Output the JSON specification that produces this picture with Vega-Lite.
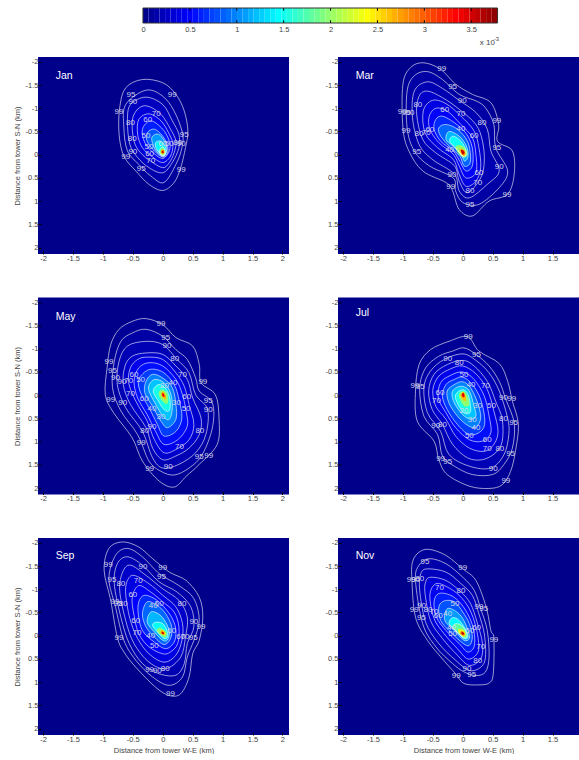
{"$schema":"https://vega.github.io/schema/vega-lite/v6.json","padding":{"left":13,"top":7,"right":0,"bottom":0},"background":"white","spacing":9,
"config":{"font":"Liberation Sans","view":{"stroke":null,"fill":"#00008b"},"axis":{"domain":false,"grid":false,"tickSize":-3,"tickColor":"#000000","labelFontSize":7.5,"labelColor":"#444444","labelPadding":3,"titleFontSize":7.5,"titleFontWeight":"normal","titleColor":"#444444"}},
"datasets":{
"cb":[{"a":0,"b":0.059},{"a":0.059,"b":0.118},{"a":0.118,"b":0.177},{"a":0.177,"b":0.236},{"a":0.236,"b":0.295},{"a":0.295,"b":0.354},{"a":0.354,"b":0.413},{"a":0.413,"b":0.472},{"a":0.472,"b":0.531},{"a":0.531,"b":0.59},{"a":0.59,"b":0.649},{"a":0.649,"b":0.708},{"a":0.708,"b":0.767},{"a":0.767,"b":0.826},{"a":0.826,"b":0.885},{"a":0.885,"b":0.944},{"a":0.944,"b":1.003},{"a":1.003,"b":1.062},{"a":1.062,"b":1.121},{"a":1.121,"b":1.18},{"a":1.18,"b":1.239},{"a":1.239,"b":1.298},{"a":1.298,"b":1.357},{"a":1.357,"b":1.416},{"a":1.416,"b":1.475},{"a":1.475,"b":1.534},{"a":1.534,"b":1.593},{"a":1.593,"b":1.652},{"a":1.652,"b":1.711},{"a":1.711,"b":1.77},{"a":1.77,"b":1.829},{"a":1.829,"b":1.888},{"a":1.888,"b":1.947},{"a":1.947,"b":2.006},{"a":2.006,"b":2.065},{"a":2.065,"b":2.124},{"a":2.124,"b":2.183},{"a":2.183,"b":2.242},{"a":2.242,"b":2.301},{"a":2.301,"b":2.36},{"a":2.36,"b":2.419},{"a":2.419,"b":2.478},{"a":2.478,"b":2.537},{"a":2.537,"b":2.596},{"a":2.596,"b":2.655},{"a":2.655,"b":2.714},{"a":2.714,"b":2.773},{"a":2.773,"b":2.832},{"a":2.832,"b":2.891},{"a":2.891,"b":2.95},{"a":2.95,"b":3.009},{"a":3.009,"b":3.068},{"a":3.068,"b":3.127},{"a":3.127,"b":3.186},{"a":3.186,"b":3.245},{"a":3.245,"b":3.304},{"a":3.304,"b":3.363},{"a":3.363,"b":3.422},{"a":3.422,"b":3.481},{"a":3.481,"b":3.54},{"a":3.54,"b":3.599},{"a":3.599,"b":3.658},{"a":3.658,"b":3.717},{"a":3.717,"b":3.78}],
"dJan":[{"l":99,"v":0.05},{"l":95,"v":0.12},{"l":90,"v":0.2},{"l":80,"v":0.3},{"l":70,"v":0.42},{"l":60,"v":0.58},{"l":50,"v":0.78},{"l":40,"v":1.05},{"l":30,"v":1.4},{"l":20,"v":1.75},{"l":10,"v":2.25},{"l":5,"v":2.9},{"l":2,"v":3.6}],
"dMar":[{"l":99,"v":0.03},{"l":95,"v":0.09},{"l":90,"v":0.15},{"l":80,"v":0.24},{"l":70,"v":0.34},{"l":60,"v":0.46},{"l":50,"v":0.62},{"l":40,"v":0.85},{"l":30,"v":1.15},{"l":20,"v":1.45},{"l":10,"v":1.95},{"l":5,"v":2.6},{"l":2,"v":3.5}],
"dMay":[{"l":99,"v":0.03},{"l":95,"v":0.09},{"l":90,"v":0.16},{"l":80,"v":0.26},{"l":70,"v":0.38},{"l":60,"v":0.52},{"l":50,"v":0.7},{"l":40,"v":0.95},{"l":30,"v":1.2},{"l":20,"v":1.5},{"l":10,"v":1.95},{"l":5,"v":2.6},{"l":2,"v":3.4}],
"Jan":[{"l":99,"x":-0.34,"y":-1.62},{"l":99,"x":0,"y":-1.55},{"l":99,"x":0.22,"y":-1.3},{"l":99,"x":0.36,"y":-0.94},{"l":99,"x":0.42,"y":-0.51},{"l":99,"x":0.38,"y":-0.15},{"l":99,"x":0.3,"y":0.28},{"l":99,"x":0.19,"y":0.6},{"l":99,"x":0,"y":0.77},{"l":99,"x":-0.23,"y":0.64},{"l":99,"x":-0.45,"y":0.35},{"l":99,"x":-0.65,"y":0.03},{"l":99,"x":-0.73,"y":-0.44},{"l":99,"x":-0.72,"y":-1.01},{"l":99,"x":-0.62,"y":-1.44},
{"l":95,"x":-0.28,"y":-1.39},{"l":95,"x":0,"y":-1.26},{"l":95,"x":0.19,"y":-0.94},{"l":95,"x":0.33,"y":-0.47},{"l":95,"x":0.32,"y":-0.15},{"l":95,"x":0.22,"y":0.21},{"l":95,"x":0.02,"y":0.6},{"l":95,"x":-0.2,"y":0.46},{"l":95,"x":-0.4,"y":0.21},{"l":95,"x":-0.59,"y":-0.08},{"l":95,"x":-0.65,"y":-0.58},{"l":95,"x":-0.62,"y":-1.08},
{"l":90,"x":-0.28,"y":-1.24},{"l":90,"x":0,"y":-1.08},{"l":90,"x":0.16,"y":-0.73},{"l":90,"x":0.27,"y":-0.44},{"l":90,"x":0.27,"y":-0.15},{"l":90,"x":0.16,"y":0.17},{"l":90,"x":0,"y":0.39},{"l":90,"x":-0.23,"y":0.28},{"l":90,"x":-0.42,"y":0.06},{"l":90,"x":-0.55,"y":-0.22},{"l":90,"x":-0.59,"y":-0.73},{"l":90,"x":-0.54,"y":-1.08},
{"l":80,"x":-0.26,"y":-1.05},{"l":80,"x":-0.03,"y":-0.87},{"l":80,"x":0.13,"y":-0.55},{"l":80,"x":0.22,"y":-0.29},{"l":80,"x":0.19,"y":-0.04},{"l":80,"x":0.11,"y":0.17},{"l":80,"x":0,"y":0.28},{"l":80,"x":-0.2,"y":0.14},{"l":80,"x":-0.37,"y":-0.04},{"l":80,"x":-0.48,"y":-0.29},{"l":80,"x":-0.51,"y":-0.73},{"l":80,"x":-0.42,"y":-0.98},
{"l":70,"x":-0.23,"y":-0.88},{"l":70,"x":-0.03,"y":-0.73},{"l":70,"x":0.11,"y":-0.44},{"l":70,"x":0.17,"y":-0.22},{"l":70,"x":0.13,"y":0.03},{"l":70,"x":0,"y":0.17},{"l":70,"x":-0.17,"y":0.05},{"l":70,"x":-0.34,"y":-0.15},{"l":70,"x":-0.42,"y":-0.44},{"l":70,"x":-0.4,"y":-0.76},
{"l":60,"x":-0.2,"y":-0.73},{"l":60,"x":0,"y":-0.55},{"l":60,"x":0.11,"y":-0.29},{"l":60,"x":0.11,"y":-0.08},{"l":60,"x":0,"y":0.08},{"l":60,"x":-0.16,"y":-0.04},{"l":60,"x":-0.3,"y":-0.26},{"l":60,"x":-0.34,"y":-0.55},
{"l":50,"x":-0.14,"y":-0.55},{"l":50,"x":0,"y":-0.4},{"l":50,"x":0.08,"y":-0.19},{"l":50,"x":0.08,"y":-0.04},{"l":50,"x":0,"y":0.05},{"l":50,"x":-0.14,"y":-0.08},{"l":50,"x":-0.26,"y":-0.29},{"l":50,"x":-0.26,"y":-0.47},
{"l":40,"x":-0.07,"y":-0.44},{"l":40,"x":0.03,"y":-0.29},{"l":40,"x":0.07,"y":-0.11},{"l":40,"x":0,"y":0.03},{"l":40,"x":-0.12,"y":-0.1},{"l":40,"x":-0.18,"y":-0.29},{"l":40,"x":-0.17,"y":-0.4},
{"l":30,"x":-0.03,"y":-0.29},{"l":30,"x":0.05,"y":-0.15},{"l":30,"x":0.05,"y":-0.02},{"l":30,"x":0,"y":0.02},{"l":30,"x":-0.1,"y":-0.11},{"l":30,"x":-0.12,"y":-0.26},
{"l":20,"x":0,"y":-0.17},{"l":20,"x":0.04,"y":-0.08},{"l":20,"x":0.03,"y":0.01},{"l":20,"x":-0.02,"y":0.02},{"l":20,"x":-0.06,"y":-0.08},
{"l":10,"x":0,"y":-0.13},{"l":10,"x":0.04,"y":-0.06},{"l":10,"x":0,"y":0},{"l":10,"x":-0.04,"y":-0.06},
{"l":5,"x":0,"y":-0.11},{"l":5,"x":0.03,"y":-0.06},{"l":5,"x":0,"y":-0.02},{"l":5,"x":-0.03,"y":-0.06},
{"l":2,"x":0,"y":-0.08},{"l":2,"x":0.015,"y":-0.055},{"l":2,"x":0,"y":-0.035},{"l":2,"x":-0.015,"y":-0.055}],
"Mar":[{"l":99,"x":-0.65,"y":-1.98},{"l":99,"x":-0.37,"y":-1.84},{"l":99,"x":-0.12,"y":-1.52},{"l":99,"x":0.16,"y":-1.3},{"l":99,"x":0.47,"y":-1.12},{"l":99,"x":0.6,"y":-0.65},{"l":99,"x":0.58,"y":-0.29},{"l":99,"x":0.83,"y":-0.08},{"l":99,"x":0.86,"y":0.42},{"l":99,"x":0.75,"y":0.85},{"l":99,"x":0.44,"y":1},{"l":99,"x":0.16,"y":1.32},{"l":99,"x":-0.06,"y":1.18},{"l":99,"x":-0.17,"y":0.78},{"l":99,"x":-0.28,"y":0.6},{"l":99,"x":-0.67,"y":0.35},{"l":99,"x":-0.9,"y":-0.08},{"l":99,"x":-1,"y":-0.58},{"l":99,"x":-1,"y":-1.52},{"l":99,"x":-0.87,"y":-1.88},
{"l":95,"x":-0.59,"y":-1.79},{"l":95,"x":-0.34,"y":-1.62},{"l":95,"x":-0.06,"y":-1.3},{"l":95,"x":0.22,"y":-1.16},{"l":95,"x":0.38,"y":-1.01},{"l":95,"x":0.52,"y":-0.65},{"l":95,"x":0.55,"y":-0.15},{"l":95,"x":0.75,"y":0.35},{"l":95,"x":0.61,"y":0.71},{"l":95,"x":0.27,"y":1.07},{"l":95,"x":0,"y":1.03},{"l":95,"x":-0.12,"y":0.78},{"l":95,"x":-0.16,"y":0.5},{"l":95,"x":-0.56,"y":0.24},{"l":95,"x":-0.81,"y":-0.08},{"l":95,"x":-0.93,"y":-0.58},{"l":95,"x":-0.93,"y":-1.37},{"l":95,"x":-0.81,"y":-1.7},
{"l":90,"x":-0.59,"y":-1.57},{"l":90,"x":-0.34,"y":-1.43},{"l":90,"x":-0.06,"y":-1.17},{"l":90,"x":0.22,"y":-0.91},{"l":90,"x":0.41,"y":-0.55},{"l":90,"x":0.47,"y":-0.08},{"l":90,"x":0.61,"y":0.35},{"l":90,"x":0.41,"y":0.64},{"l":90,"x":0.11,"y":0.93},{"l":90,"x":-0.06,"y":0.78},{"l":90,"x":-0.14,"y":0.42},{"l":90,"x":-0.51,"y":0.1},{"l":90,"x":-0.73,"y":-0.22},{"l":90,"x":-0.84,"y":-0.8},{"l":90,"x":-0.81,"y":-1.37},
{"l":80,"x":-0.59,"y":-1.37},{"l":80,"x":-0.34,"y":-1.23},{"l":80,"x":-0.06,"y":-0.98},{"l":80,"x":0.22,"y":-0.65},{"l":80,"x":0.33,"y":-0.29},{"l":80,"x":0.36,"y":0.14},{"l":80,"x":0.3,"y":0.5},{"l":80,"x":0.08,"y":0.82},{"l":80,"x":-0.06,"y":0.57},{"l":80,"x":-0.14,"y":0.24},{"l":80,"x":-0.45,"y":-0.04},{"l":80,"x":-0.67,"y":-0.33},{"l":80,"x":-0.77,"y":-0.87},{"l":80,"x":-0.73,"y":-1.26},
{"l":70,"x":-0.51,"y":-1.17},{"l":70,"x":-0.28,"y":-1.1},{"l":70,"x":-0.03,"y":-0.83},{"l":70,"x":0.19,"y":-0.51},{"l":70,"x":0.27,"y":-0.15},{"l":70,"x":0.3,"y":0.28},{"l":70,"x":0.22,"y":0.57},{"l":70,"x":0.05,"y":0.68},{"l":70,"x":-0.07,"y":0.39},{"l":70,"x":-0.16,"y":0.1},{"l":70,"x":-0.42,"y":-0.15},{"l":70,"x":-0.63,"y":-0.47},{"l":70,"x":-0.66,"y":-0.94},
{"l":60,"x":-0.45,"y":-1},{"l":60,"x":-0.26,"y":-0.94},{"l":60,"x":-0.03,"y":-0.65},{"l":60,"x":0.16,"y":-0.37},{"l":60,"x":0.22,"y":-0.01},{"l":60,"x":0.22,"y":0.39},{"l":60,"x":0.05,"y":0.5},{"l":60,"x":-0.06,"y":0.24},{"l":60,"x":-0.16,"y":-0.01},{"l":60,"x":-0.4,"y":-0.26},{"l":60,"x":-0.55,"y":-0.55},{"l":60,"x":-0.56,"y":-0.83},
{"l":50,"x":-0.34,"y":-0.83},{"l":50,"x":-0.14,"y":-0.69},{"l":50,"x":0.05,"y":-0.47},{"l":50,"x":0.16,"y":-0.15},{"l":50,"x":0.16,"y":0.24},{"l":50,"x":0.05,"y":0.35},{"l":50,"x":-0.05,"y":0.14},{"l":50,"x":-0.16,"y":-0.08},{"l":50,"x":-0.37,"y":-0.29},{"l":50,"x":-0.48,"y":-0.55},{"l":50,"x":-0.45,"y":-0.76},
{"l":40,"x":-0.28,"y":-0.65},{"l":40,"x":-0.09,"y":-0.55},{"l":40,"x":0.08,"y":-0.29},{"l":40,"x":0.13,"y":0.03},{"l":40,"x":0.11,"y":0.21},{"l":40,"x":0.02,"y":0.24},{"l":40,"x":-0.05,"y":0.03},{"l":40,"x":-0.2,"y":-0.15},{"l":40,"x":-0.37,"y":-0.4},{"l":40,"x":-0.4,"y":-0.58},
{"l":30,"x":-0.23,"y":-0.5},{"l":30,"x":-0.06,"y":-0.4},{"l":30,"x":0.06,"y":-0.19},{"l":30,"x":0.09,"y":0.03},{"l":30,"x":0.03,"y":0.14},{"l":30,"x":-0.03,"y":-0.01},{"l":30,"x":-0.17,"y":-0.19},{"l":30,"x":-0.28,"y":-0.33},
{"l":20,"x":-0.16,"y":-0.4},{"l":20,"x":-0.03,"y":-0.29},{"l":20,"x":0.05,"y":-0.11},{"l":20,"x":0.05,"y":0.03},{"l":20,"x":0,"y":0.03},{"l":20,"x":-0.12,"y":-0.15},{"l":20,"x":-0.22,"y":-0.29},
{"l":10,"x":-0.07,"y":-0.21},{"l":10,"x":0.04,"y":-0.15},{"l":10,"x":0.08,"y":-0.01},{"l":10,"x":0.02,"y":0.06},{"l":10,"x":-0.06,"y":-0.01},{"l":10,"x":-0.12,"y":-0.15},
{"l":5,"x":-0.05,"y":-0.13},{"l":5,"x":0.03,"y":-0.09},{"l":5,"x":0.05,"y":0},{"l":5,"x":0.01,"y":0.03},{"l":5,"x":-0.04,"y":-0.03},
{"l":2,"x":-0.03,"y":-0.1},{"l":2,"x":0.02,"y":-0.08},{"l":2,"x":0.03,"y":-0.02},{"l":2,"x":-0.01,"y":-0.01}],
"May":[{"l":99,"x":-0.28,"y":-1.65},{"l":99,"x":0,"y":-1.52},{"l":99,"x":0.22,"y":-1.24},{"l":99,"x":0.5,"y":-1.06},{"l":99,"x":0.61,"y":-0.66},{"l":99,"x":0.64,"y":-0.27},{"l":99,"x":0.88,"y":-0.01},{"l":99,"x":0.94,"y":0.49},{"l":99,"x":0.91,"y":1.06},{"l":99,"x":0.61,"y":1.49},{"l":99,"x":0.39,"y":1.75},{"l":99,"x":0.19,"y":1.98},{"l":99,"x":-0.06,"y":1.85},{"l":99,"x":-0.34,"y":1.42},{"l":99,"x":-0.51,"y":0.92},{"l":99,"x":-0.82,"y":0.38},{"l":99,"x":-0.96,"y":-0.01},{"l":99,"x":-0.93,"y":-0.59},{"l":99,"x":-0.87,"y":-1.09},{"l":99,"x":-0.73,"y":-1.42},{"l":99,"x":-0.51,"y":-1.59},
{"l":95,"x":-0.28,"y":-1.42},{"l":95,"x":0,"y":-1.27},{"l":95,"x":0.22,"y":-0.98},{"l":95,"x":0.41,"y":-0.77},{"l":95,"x":0.55,"y":-0.37},{"l":95,"x":0.61,"y":-0.09},{"l":95,"x":0.83,"y":0.17},{"l":95,"x":0.83,"y":0.7},{"l":95,"x":0.66,"y":1.28},{"l":95,"x":0.44,"y":1.57},{"l":95,"x":0.19,"y":1.72},{"l":95,"x":-0.03,"y":1.64},{"l":95,"x":-0.23,"y":1.42},{"l":95,"x":-0.42,"y":0.85},{"l":95,"x":-0.7,"y":0.34},{"l":95,"x":-0.84,"y":-0.16},{"l":95,"x":-0.81,"y":-0.73},{"l":95,"x":-0.7,"y":-1.16},{"l":95,"x":-0.51,"y":-1.34},
{"l":90,"x":-0.28,"y":-1.16},{"l":90,"x":0,"y":-1.09},{"l":90,"x":0.24,"y":-0.77},{"l":90,"x":0.44,"y":-0.48},{"l":90,"x":0.55,"y":-0.01},{"l":90,"x":0.75,"y":0.31},{"l":90,"x":0.72,"y":0.85},{"l":90,"x":0.55,"y":1.24},{"l":90,"x":0.27,"y":1.49},{"l":90,"x":0,"y":1.57},{"l":90,"x":-0.17,"y":1.35},{"l":90,"x":-0.34,"y":0.78},{"l":90,"x":-0.62,"y":0.27},{"l":90,"x":-0.76,"y":-0.23},{"l":90,"x":-0.73,"y":-0.73},{"l":90,"x":-0.59,"y":-1.06},
{"l":80,"x":-0.28,"y":-0.91},{"l":80,"x":0,"y":-0.88},{"l":80,"x":0.22,"y":-0.63},{"l":80,"x":0.41,"y":-0.34},{"l":80,"x":0.5,"y":0.06},{"l":80,"x":0.64,"y":0.49},{"l":80,"x":0.61,"y":0.85},{"l":80,"x":0.44,"y":1.14},{"l":80,"x":0.22,"y":1.31},{"l":80,"x":0,"y":1.39},{"l":80,"x":-0.17,"y":1.14},{"l":80,"x":-0.28,"y":0.7},{"l":80,"x":-0.54,"y":0.2},{"l":80,"x":-0.66,"y":-0.23},{"l":80,"x":-0.63,"y":-0.63},{"l":80,"x":-0.51,"y":-0.84},
{"l":70,"x":-0.26,"y":-0.82},{"l":70,"x":0,"y":-0.77},{"l":70,"x":0.22,"y":-0.48},{"l":70,"x":0.36,"y":-0.19},{"l":70,"x":0.44,"y":0.2},{"l":70,"x":0.52,"y":0.63},{"l":70,"x":0.44,"y":0.96},{"l":70,"x":0.22,"y":1.17},{"l":70,"x":0.02,"y":1.24},{"l":70,"x":-0.14,"y":0.96},{"l":70,"x":-0.26,"y":0.56},{"l":70,"x":-0.45,"y":0.13},{"l":70,"x":-0.57,"y":-0.27},{"l":70,"x":-0.54,"y":-0.59},{"l":70,"x":-0.42,"y":-0.77},
{"l":60,"x":-0.23,"y":-0.7},{"l":60,"x":0,"y":-0.63},{"l":60,"x":0.22,"y":-0.34},{"l":60,"x":0.33,"y":-0.01},{"l":60,"x":0.39,"y":0.34},{"l":60,"x":0.41,"y":0.67},{"l":60,"x":0.25,"y":0.96},{"l":60,"x":0.02,"y":1.06},{"l":60,"x":-0.12,"y":0.78},{"l":60,"x":-0.26,"y":0.42},{"l":60,"x":-0.42,"y":0.06},{"l":60,"x":-0.48,"y":-0.3},{"l":60,"x":-0.4,"y":-0.59},
{"l":50,"x":-0.23,"y":-0.55},{"l":50,"x":0,"y":-0.5},{"l":50,"x":0.19,"y":-0.23},{"l":50,"x":0.27,"y":0.09},{"l":50,"x":0.32,"y":0.49},{"l":50,"x":0.22,"y":0.78},{"l":50,"x":0.02,"y":0.88},{"l":50,"x":-0.09,"y":0.63},{"l":50,"x":-0.23,"y":0.27},{"l":50,"x":-0.37,"y":-0.05},{"l":50,"x":-0.4,"y":-0.34},
{"l":40,"x":-0.17,"y":-0.45},{"l":40,"x":0,"y":-0.37},{"l":40,"x":0.16,"y":-0.16},{"l":40,"x":0.22,"y":0.2},{"l":40,"x":0.22,"y":0.52},{"l":40,"x":0.08,"y":0.7},{"l":40,"x":-0.03,"y":0.56},{"l":40,"x":-0.17,"y":0.24},{"l":40,"x":-0.3,"y":-0.05},{"l":40,"x":-0.28,"y":-0.3},
{"l":30,"x":-0.13,"y":-0.34},{"l":30,"x":0.02,"y":-0.27},{"l":30,"x":0.13,"y":-0.05},{"l":30,"x":0.16,"y":0.27},{"l":30,"x":0.11,"y":0.52},{"l":30,"x":0,"y":0.45},{"l":30,"x":-0.13,"y":0.17},{"l":30,"x":-0.23,"y":-0.09},{"l":30,"x":-0.22,"y":-0.24},
{"l":20,"x":-0.07,"y":-0.23},{"l":20,"x":0.05,"y":-0.14},{"l":20,"x":0.12,"y":0.09},{"l":20,"x":0.11,"y":0.33},{"l":20,"x":0.02,"y":0.31},{"l":20,"x":-0.09,"y":0.09},{"l":20,"x":-0.16,"y":-0.09},
{"l":10,"x":-0.02,"y":-0.12},{"l":10,"x":0.07,"y":-0.05},{"l":10,"x":0.09,"y":0.13},{"l":10,"x":0.05,"y":0.19},{"l":10,"x":-0.03,"y":0.09},{"l":10,"x":-0.07,"y":-0.03},
{"l":5,"x":0,"y":-0.08},{"l":5,"x":0.05,"y":0},{"l":5,"x":0.05,"y":0.1},{"l":5,"x":0,"y":0.05},{"l":5,"x":-0.03,"y":-0.01},
{"l":2,"x":0,"y":-0.05},{"l":2,"x":0.03,"y":0},{"l":2,"x":0.02,"y":0.04},{"l":2,"x":-0.01,"y":0}],
"Jul":[{"l":99,"x":0.08,"y":-1.26},{"l":99,"x":0.27,"y":-0.95},{"l":99,"x":0.61,"y":-0.68},{"l":99,"x":0.75,"y":-0.3},{"l":99,"x":0.83,"y":0.13},{"l":99,"x":0.93,"y":0.63},{"l":99,"x":0.88,"y":1.21},{"l":99,"x":0.8,"y":1.64},{"l":99,"x":0.66,"y":1.93},{"l":99,"x":0.44,"y":2.01},{"l":99,"x":0.11,"y":1.96},{"l":99,"x":-0.26,"y":1.71},{"l":99,"x":-0.4,"y":1.39},{"l":99,"x":-0.48,"y":0.99},{"l":99,"x":-0.76,"y":0.56},{"l":99,"x":-0.79,"y":-0.09},{"l":99,"x":-0.73,"y":-0.66},{"l":99,"x":-0.54,"y":-0.98},{"l":99,"x":-0.23,"y":-1.16},
{"l":95,"x":0.02,"y":-1.02},{"l":95,"x":0.22,"y":-0.88},{"l":95,"x":0.44,"y":-0.63},{"l":95,"x":0.61,"y":-0.3},{"l":95,"x":0.72,"y":0.09},{"l":95,"x":0.86,"y":0.6},{"l":95,"x":0.83,"y":1.14},{"l":95,"x":0.69,"y":1.49},{"l":95,"x":0.5,"y":1.71},{"l":95,"x":0.16,"y":1.71},{"l":95,"x":-0.14,"y":1.53},{"l":95,"x":-0.34,"y":1.31},{"l":95,"x":-0.42,"y":0.85},{"l":95,"x":-0.65,"y":0.45},{"l":95,"x":-0.72,"y":-0.16},{"l":95,"x":-0.62,"y":-0.59},{"l":95,"x":-0.4,"y":-0.84},{"l":95,"x":-0.17,"y":-0.95},
{"l":90,"x":0,"y":-0.89},{"l":90,"x":0.22,"y":-0.75},{"l":90,"x":0.44,"y":-0.48},{"l":90,"x":0.61,"y":-0.09},{"l":90,"x":0.75,"y":0.49},{"l":90,"x":0.77,"y":0.85},{"l":90,"x":0.69,"y":1.28},{"l":90,"x":0.47,"y":1.57},{"l":90,"x":0.11,"y":1.53},{"l":90,"x":-0.23,"y":1.28},{"l":90,"x":-0.37,"y":0.78},{"l":90,"x":-0.59,"y":0.38},{"l":90,"x":-0.65,"y":-0.16},{"l":90,"x":-0.54,"y":-0.52},{"l":90,"x":-0.31,"y":-0.77},
{"l":80,"x":0,"y":-0.75},{"l":80,"x":0.19,"y":-0.63},{"l":80,"x":0.41,"y":-0.3},{"l":80,"x":0.55,"y":0.13},{"l":80,"x":0.66,"y":0.52},{"l":80,"x":0.66,"y":0.99},{"l":80,"x":0.55,"y":1.24},{"l":80,"x":0.33,"y":1.39},{"l":80,"x":0.08,"y":1.35},{"l":80,"x":-0.17,"y":1.06},{"l":80,"x":-0.34,"y":0.63},{"l":80,"x":-0.51,"y":0.31},{"l":80,"x":-0.57,"y":-0.09},{"l":80,"x":-0.48,"y":-0.45},{"l":80,"x":-0.26,"y":-0.66},
{"l":70,"x":0,"y":-0.63},{"l":70,"x":0.22,"y":-0.46},{"l":70,"x":0.41,"y":-0.12},{"l":70,"x":0.52,"y":0.34},{"l":70,"x":0.59,"y":0.78},{"l":70,"x":0.52,"y":1.06},{"l":70,"x":0.36,"y":1.21},{"l":70,"x":0.11,"y":1.14},{"l":70,"x":-0.12,"y":0.88},{"l":70,"x":-0.28,"y":0.52},{"l":70,"x":-0.45,"y":0.24},{"l":70,"x":-0.5,"y":-0.12},{"l":70,"x":-0.4,"y":-0.41},{"l":70,"x":-0.2,"y":-0.57},
{"l":60,"x":0,"y":-0.5},{"l":60,"x":0.19,"y":-0.34},{"l":60,"x":0.36,"y":0.02},{"l":60,"x":0.44,"y":0.45},{"l":60,"x":0.47,"y":0.81},{"l":60,"x":0.33,"y":0.99},{"l":60,"x":0.11,"y":0.96},{"l":60,"x":-0.12,"y":0.7},{"l":60,"x":-0.28,"y":0.38},{"l":60,"x":-0.41,"y":0.06},{"l":60,"x":-0.37,"y":-0.27},{"l":60,"x":-0.2,"y":-0.43},
{"l":50,"x":0,"y":-0.39},{"l":50,"x":0.16,"y":-0.23},{"l":50,"x":0.3,"y":0.09},{"l":50,"x":0.37,"y":0.56},{"l":50,"x":0.3,"y":0.78},{"l":50,"x":0.11,"y":0.85},{"l":50,"x":-0.09,"y":0.63},{"l":50,"x":-0.26,"y":0.31},{"l":50,"x":-0.34,"y":0.02},{"l":50,"x":-0.28,"y":-0.23},{"l":50,"x":-0.14,"y":-0.34},
{"l":40,"x":0,"y":-0.29},{"l":40,"x":0.13,"y":-0.16},{"l":40,"x":0.25,"y":0.17},{"l":40,"x":0.3,"y":0.49},{"l":40,"x":0.22,"y":0.69},{"l":40,"x":0.08,"y":0.65},{"l":40,"x":-0.09,"y":0.45},{"l":40,"x":-0.23,"y":0.17},{"l":40,"x":-0.26,"y":-0.09},{"l":40,"x":-0.14,"y":-0.23},
{"l":30,"x":0,"y":-0.19},{"l":30,"x":0.11,"y":-0.09},{"l":30,"x":0.19,"y":0.24},{"l":30,"x":0.22,"y":0.45},{"l":30,"x":0.13,"y":0.52},{"l":30,"x":0,"y":0.42},{"l":30,"x":-0.14,"y":0.17},{"l":30,"x":-0.18,"y":-0.05},{"l":30,"x":-0.11,"y":-0.16},
{"l":20,"x":0,"y":-0.12},{"l":20,"x":0.09,"y":-0.01},{"l":20,"x":0.13,"y":0.24},{"l":20,"x":0.12,"y":0.38},{"l":20,"x":0.02,"y":0.38},{"l":20,"x":-0.09,"y":0.17},{"l":20,"x":-0.12,"y":-0.01},
{"l":10,"x":0.01,"y":-0.09},{"l":10,"x":0.08,"y":0.02},{"l":10,"x":0.11,"y":0.2},{"l":10,"x":0.03,"y":0.24},{"l":10,"x":-0.05,"y":0.09},{"l":10,"x":-0.06,"y":-0.03},
{"l":5,"x":0.01,"y":-0.07},{"l":5,"x":0.05,"y":0.02},{"l":5,"x":0.05,"y":0.12},{"l":5,"x":0,"y":0.1},{"l":5,"x":-0.04,"y":0},
{"l":2,"x":0.01,"y":-0.05},{"l":2,"x":0.03,"y":0},{"l":2,"x":0.02,"y":0.05},{"l":2,"x":-0.02,"y":0}],
"Sep":[{"l":99,"x":-0.67,"y":-2.02},{"l":99,"x":-0.4,"y":-1.91},{"l":99,"x":-0.17,"y":-1.66},{"l":99,"x":0.11,"y":-1.37},{"l":99,"x":0.39,"y":-1.19},{"l":99,"x":0.61,"y":-0.83},{"l":99,"x":0.67,"y":-0.4},{"l":99,"x":0.61,"y":0.1},{"l":99,"x":0.5,"y":0.39},{"l":99,"x":0.44,"y":0.89},{"l":99,"x":0.3,"y":1.25},{"l":99,"x":0.11,"y":1.29},{"l":99,"x":-0.12,"y":1.11},{"l":99,"x":-0.45,"y":0.68},{"l":99,"x":-0.65,"y":0.35},{"l":99,"x":-0.76,"y":0.03},{"l":99,"x":-0.87,"y":-0.76},{"l":99,"x":-0.98,"y":-1.41},{"l":99,"x":-0.9,"y":-1.88},
{"l":95,"x":-0.59,"y":-1.88},{"l":95,"x":-0.34,"y":-1.7},{"l":95,"x":-0.06,"y":-1.34},{"l":95,"x":0.27,"y":-1.08},{"l":95,"x":0.52,"y":-0.8},{"l":95,"x":0.61,"y":-0.33},{"l":95,"x":0.52,"y":0.1},{"l":95,"x":0.41,"y":0.46},{"l":95,"x":0.33,"y":0.89},{"l":95,"x":0.11,"y":1.07},{"l":95,"x":-0.17,"y":0.89},{"l":95,"x":-0.45,"y":0.53},{"l":95,"x":-0.65,"y":0.1},{"l":95,"x":-0.79,"y":-0.62},{"l":95,"x":-0.9,"y":-1.23},{"l":95,"x":-0.79,"y":-1.73},
{"l":90,"x":-0.59,"y":-1.7},{"l":90,"x":-0.34,"y":-1.52},{"l":90,"x":-0.06,"y":-1.16},{"l":90,"x":0.24,"y":-0.94},{"l":90,"x":0.47,"y":-0.62},{"l":90,"x":0.52,"y":-0.19},{"l":90,"x":0.41,"y":0.17},{"l":90,"x":0.36,"y":0.6},{"l":90,"x":0.22,"y":0.85},{"l":90,"x":-0.06,"y":0.82},{"l":90,"x":-0.34,"y":0.6},{"l":90,"x":-0.56,"y":0.17},{"l":90,"x":-0.7,"y":-0.4},{"l":90,"x":-0.81,"y":-1.12},{"l":90,"x":-0.76,"y":-1.55},
{"l":80,"x":-0.54,"y":-1.52},{"l":80,"x":-0.28,"y":-1.3},{"l":80,"x":0,"y":-1.01},{"l":80,"x":0.27,"y":-0.76},{"l":80,"x":0.41,"y":-0.4},{"l":80,"x":0.38,"y":0.03},{"l":80,"x":0.3,"y":0.46},{"l":80,"x":0.05,"y":0.71},{"l":80,"x":-0.23,"y":0.57},{"l":80,"x":-0.48,"y":0.17},{"l":80,"x":-0.62,"y":-0.33},{"l":80,"x":-0.72,"y":-0.98},{"l":80,"x":-0.67,"y":-1.37},
{"l":70,"x":-0.48,"y":-1.3},{"l":70,"x":-0.23,"y":-1.12},{"l":70,"x":0,"y":-0.87},{"l":70,"x":0.22,"y":-0.62},{"l":70,"x":0.33,"y":-0.26},{"l":70,"x":0.32,"y":0.1},{"l":70,"x":0.22,"y":0.42},{"l":70,"x":0.02,"y":0.57},{"l":70,"x":-0.23,"y":0.39},{"l":70,"x":-0.42,"y":0.06},{"l":70,"x":-0.55,"y":-0.37},{"l":70,"x":-0.62,"y":-0.91},{"l":70,"x":-0.59,"y":-1.19},
{"l":60,"x":-0.4,"y":-1.08},{"l":60,"x":-0.2,"y":-0.94},{"l":60,"x":0,"y":-0.73},{"l":60,"x":0.19,"y":-0.51},{"l":60,"x":0.27,"y":-0.19},{"l":60,"x":0.25,"y":0.17},{"l":60,"x":0.13,"y":0.35},{"l":60,"x":0,"y":0.39},{"l":60,"x":-0.23,"y":0.24},{"l":60,"x":-0.4,"y":-0.04},{"l":60,"x":-0.48,"y":-0.44},{"l":60,"x":-0.51,"y":-0.83},
{"l":50,"x":-0.31,"y":-0.87},{"l":50,"x":-0.14,"y":-0.8},{"l":50,"x":0.02,"y":-0.62},{"l":50,"x":0.16,"y":-0.37},{"l":50,"x":0.22,"y":-0.11},{"l":50,"x":0.19,"y":0.14},{"l":50,"x":0.05,"y":0.28},{"l":50,"x":-0.14,"y":0.14},{"l":50,"x":-0.34,"y":-0.11},{"l":50,"x":-0.41,"y":-0.47},{"l":50,"x":-0.4,"y":-0.73},
{"l":40,"x":-0.26,"y":-0.73},{"l":40,"x":-0.09,"y":-0.65},{"l":40,"x":0.05,"y":-0.47},{"l":40,"x":0.15,"y":-0.19},{"l":40,"x":0.13,"y":0.06},{"l":40,"x":0.02,"y":0.19},{"l":40,"x":-0.14,"y":0.03},{"l":40,"x":-0.28,"y":-0.19},{"l":40,"x":-0.34,"y":-0.47},
{"l":30,"x":-0.2,"y":-0.51},{"l":30,"x":-0.06,"y":-0.46},{"l":30,"x":0.05,"y":-0.29},{"l":30,"x":0.11,"y":-0.08},{"l":30,"x":0.08,"y":0.09},{"l":30,"x":0,"y":0.1},{"l":30,"x":-0.14,"y":-0.08},{"l":30,"x":-0.26,"y":-0.29},
{"l":20,"x":-0.12,"y":-0.29},{"l":20,"x":0,"y":-0.26},{"l":20,"x":0.07,"y":-0.11},{"l":20,"x":0.08,"y":0.03},{"l":20,"x":0.02,"y":0.06},{"l":20,"x":-0.09,"y":-0.08},{"l":20,"x":-0.17,"y":-0.22},
{"l":10,"x":-0.06,"y":-0.17},{"l":10,"x":0.02,"y":-0.13},{"l":10,"x":0.07,"y":-0.04},{"l":10,"x":0.04,"y":0.04},{"l":10,"x":-0.03,"y":-0.01},{"l":10,"x":-0.1,"y":-0.1},
{"l":5,"x":-0.02,"y":-0.12},{"l":5,"x":0.04,"y":-0.07},{"l":5,"x":0.03,"y":-0.01},{"l":5,"x":-0.04,"y":-0.05},
{"l":2,"x":-0.01,"y":-0.09},{"l":2,"x":0.02,"y":-0.06},{"l":2,"x":0.01,"y":-0.03},{"l":2,"x":-0.02,"y":-0.05}],
"Nov":[{"l":99,"x":-0.56,"y":-1.86},{"l":99,"x":-0.28,"y":-1.73},{"l":99,"x":0,"y":-1.44},{"l":99,"x":0.22,"y":-1.19},{"l":99,"x":0.39,"y":-0.62},{"l":99,"x":0.47,"y":-0.11},{"l":99,"x":0.52,"y":0.06},{"l":99,"x":0.51,"y":0.82},{"l":99,"x":0.44,"y":1.02},{"l":99,"x":0.27,"y":1.06},{"l":99,"x":0.02,"y":1.03},{"l":99,"x":-0.12,"y":0.82},{"l":99,"x":-0.34,"y":0.5},{"l":99,"x":-0.59,"y":0.1},{"l":99,"x":-0.79,"y":-0.4},{"l":99,"x":-0.85,"y":-1.19},{"l":99,"x":-0.84,"y":-1.59},{"l":99,"x":-0.73,"y":-1.8},
{"l":95,"x":-0.56,"y":-1.66},{"l":95,"x":-0.28,"y":-1.55},{"l":95,"x":0,"y":-1.26},{"l":95,"x":0.19,"y":-0.98},{"l":95,"x":0.3,"y":-0.58},{"l":95,"x":0.41,"y":-0.11},{"l":95,"x":0.44,"y":0.46},{"l":95,"x":0.38,"y":0.78},{"l":95,"x":0.22,"y":0.86},{"l":95,"x":0.02,"y":0.78},{"l":95,"x":-0.17,"y":0.6},{"l":95,"x":-0.45,"y":0.24},{"l":95,"x":-0.67,"y":-0.26},{"l":95,"x":-0.79,"y":-1.19},{"l":95,"x":-0.73,"y":-1.52},
{"l":90,"x":-0.59,"y":-1.44},{"l":90,"x":-0.28,"y":-1.37},{"l":90,"x":-0.03,"y":-1.12},{"l":90,"x":0.16,"y":-0.87},{"l":90,"x":0.27,"y":-0.47},{"l":90,"x":0.36,"y":-0.04},{"l":90,"x":0.38,"y":0.46},{"l":90,"x":0.3,"y":0.68},{"l":90,"x":0.11,"y":0.75},{"l":90,"x":-0.12,"y":0.53},{"l":90,"x":-0.4,"y":0.17},{"l":90,"x":-0.62,"y":-0.29},{"l":90,"x":-0.72,"y":-0.98},{"l":90,"x":-0.7,"y":-1.34},
{"l":80,"x":-0.54,"y":-1.26},{"l":80,"x":-0.28,"y":-1.19},{"l":80,"x":-0.03,"y":-0.94},{"l":80,"x":0.13,"y":-0.69},{"l":80,"x":0.24,"y":-0.29},{"l":80,"x":0.33,"y":0.17},{"l":80,"x":0.3,"y":0.5},{"l":80,"x":0.11,"y":0.64},{"l":80,"x":-0.09,"y":0.42},{"l":80,"x":-0.34,"y":0.06},{"l":80,"x":-0.54,"y":-0.33},{"l":80,"x":-0.63,"y":-0.91},{"l":80,"x":-0.62,"y":-1.16},
{"l":70,"x":-0.45,"y":-1.12},{"l":70,"x":-0.26,"y":-1.05},{"l":70,"x":-0.06,"y":-0.87},{"l":70,"x":0.11,"y":-0.58},{"l":70,"x":0.22,"y":-0.19},{"l":70,"x":0.27,"y":0.24},{"l":70,"x":0.22,"y":0.42},{"l":70,"x":0.08,"y":0.5},{"l":70,"x":-0.09,"y":0.28},{"l":70,"x":-0.31,"y":-0.04},{"l":70,"x":-0.48,"y":-0.37},{"l":70,"x":-0.55,"y":-0.87},
{"l":60,"x":-0.4,"y":-0.91},{"l":60,"x":-0.2,"y":-0.87},{"l":60,"x":-0.03,"y":-0.69},{"l":60,"x":0.11,"y":-0.4},{"l":60,"x":0.19,"y":-0.08},{"l":60,"x":0.19,"y":0.24},{"l":60,"x":0.08,"y":0.35},{"l":60,"x":-0.06,"y":0.17},{"l":60,"x":-0.28,"y":-0.11},{"l":60,"x":-0.44,"y":-0.4},{"l":60,"x":-0.48,"y":-0.73},
{"l":50,"x":-0.31,"y":-0.75},{"l":50,"x":-0.14,"y":-0.73},{"l":50,"x":0,"y":-0.51},{"l":50,"x":0.11,"y":-0.26},{"l":50,"x":0.16,"y":0.03},{"l":50,"x":0.11,"y":0.21},{"l":50,"x":0,"y":0.16},{"l":50,"x":-0.23,"y":-0.11},{"l":50,"x":-0.37,"y":-0.33},{"l":50,"x":-0.4,"y":-0.62},
{"l":40,"x":-0.26,"y":-0.58},{"l":40,"x":-0.12,"y":-0.53},{"l":40,"x":0,"y":-0.37},{"l":40,"x":0.09,"y":-0.11},{"l":40,"x":0.11,"y":0.06},{"l":40,"x":0.02,"y":0.1},{"l":40,"x":-0.14,"y":-0.11},{"l":40,"x":-0.3,"y":-0.33},
{"l":30,"x":-0.17,"y":-0.39},{"l":30,"x":-0.06,"y":-0.33},{"l":30,"x":0.04,"y":-0.15},{"l":30,"x":0.09,"y":0.03},{"l":30,"x":0.02,"y":0.06},{"l":30,"x":-0.12,"y":-0.11},{"l":30,"x":-0.23,"y":-0.26},
{"l":20,"x":-0.11,"y":-0.26},{"l":20,"x":-0.02,"y":-0.22},{"l":20,"x":0.06,"y":-0.08},{"l":20,"x":0.07,"y":0.03},{"l":20,"x":0.01,"y":0.04},{"l":20,"x":-0.11,"y":-0.1},{"l":20,"x":-0.17,"y":-0.19},
{"l":10,"x":-0.06,"y":-0.15},{"l":10,"x":0.02,"y":-0.12},{"l":10,"x":0.05,"y":-0.03},{"l":10,"x":0.02,"y":0.03},{"l":10,"x":-0.05,"y":-0.03},{"l":10,"x":-0.08,"y":-0.1},
{"l":5,"x":-0.02,"y":-0.1},{"l":5,"x":0.03,"y":-0.06},{"l":5,"x":0.02,"y":0},{"l":5,"x":-0.04,"y":-0.04},
{"l":2,"x":-0.01,"y":-0.08},{"l":2,"x":0.02,"y":-0.05},{"l":2,"x":0.01,"y":-0.02},{"l":2,"x":-0.02,"y":-0.04}],
"lJan":[{"t":"99","x":0.16,"y":-1.29},{"t":"95","x":-0.53,"y":-1.29},{"t":"90","x":-0.5,"y":-1.14},{"t":"99","x":-0.73,"y":-0.92},{"t":"70","x":-0.11,"y":-0.87},{"t":"60","x":-0.25,"y":-0.74},{"t":"80","x":-0.54,"y":-0.68},{"t":"50","x":-0.28,"y":-0.41},{"t":"80","x":-0.51,"y":-0.33},{"t":"90","x":-0.5,"y":-0.06},{"t":"99","x":-0.62,"y":0.04},{"t":"95","x":-0.36,"y":0.3},{"t":"99","x":0.31,"y":0.33},{"t":"70","x":-0.2,"y":0.14},{"t":"60","x":-0.22,"y":-0.01},{"t":"50","x":-0.23,"y":-0.17},{"t":"60","x":0,"y":-0.24},{"t":"50","x":0.11,"y":-0.22},{"t":"80","x":0.25,"y":-0.25},{"t":"90","x":0.31,"y":-0.24},{"t":"95","x":0.36,"y":-0.42}],
"lMar":[{"t":"99","x":-0.35,"y":-1.85},{"t":"95","x":-0.17,"y":-1.45},{"t":"90","x":-0.01,"y":-1.15},{"t":"80","x":-0.75,"y":-1.06},{"t":"60","x":-0.3,"y":-0.97},{"t":"70","x":-0.03,"y":-0.87},{"t":"99","x":0.57,"y":-0.72},{"t":"80","x":0.32,"y":-0.68},{"t":"99","x":-1.01,"y":-0.91},{"t":"95","x":-0.94,"y":-0.9},{"t":"90","x":-0.88,"y":-0.9},{"t":"40","x":-0.03,"y":-0.55},{"t":"60","x":-0.55,"y":-0.54},{"t":"70","x":-0.61,"y":-0.47},{"t":"80","x":-0.73,"y":-0.45},{"t":"99","x":-0.95,"y":-0.5},{"t":"60","x":0.19,"y":-0.4},{"t":"95","x":0.57,"y":-0.15},{"t":"95","x":-0.77,"y":-0.06},{"t":"40","x":-0.22,"y":-0.11},{"t":"90","x":0.61,"y":0.26},{"t":"90","x":-0.18,"y":0.43},{"t":"60","x":0.27,"y":0.4},{"t":"70","x":0.25,"y":0.6},{"t":"99","x":-0.2,"y":0.7},{"t":"80","x":0.12,"y":0.79},{"t":"99","x":0.74,"y":0.87},{"t":"95","x":0.12,"y":1.08}],
"lMay":[{"t":"99","x":-0.03,"y":-1.54},{"t":"95","x":0.05,"y":-1.24},{"t":"90","x":0.07,"y":-1.07},{"t":"80","x":0.2,"y":-0.77},{"t":"99","x":-0.9,"y":-0.72},{"t":"95","x":-0.84,"y":-0.53},{"t":"70","x":0.33,"y":-0.44},{"t":"60","x":-0.48,"y":-0.43},{"t":"90","x":-0.79,"y":-0.36},{"t":"99","x":0.67,"y":-0.29},{"t":"90","x":-0.68,"y":-0.29},{"t":"70","x":-0.57,"y":-0.3},{"t":"50","x":-0.37,"y":-0.32},{"t":"40","x":0.17,"y":-0.27},{"t":"20","x":0.03,"y":-0.2},{"t":"70","x":-0.54,"y":-0.02},{"t":"60","x":0.4,"y":0.04},{"t":"60","x":-0.31,"y":0.09},{"t":"99","x":-0.87,"y":0.11},{"t":"90","x":-0.67,"y":0.16},{"t":"95","x":0.76,"y":0.13},{"t":"30","x":0.23,"y":0.17},{"t":"50","x":0.39,"y":0.29},{"t":"90","x":0.76,"y":0.32},{"t":"40","x":-0.18,"y":0.29},{"t":"30","x":-0.03,"y":0.46},{"t":"90","x":-0.18,"y":0.68},{"t":"80","x":-0.3,"y":0.77},{"t":"80","x":0.62,"y":0.78},{"t":"99","x":-0.36,"y":1.03},{"t":"70","x":0.28,"y":1.11},{"t":"95","x":0.61,"y":1.34},{"t":"99","x":0.77,"y":1.31},{"t":"90","x":0.09,"y":1.54},{"t":"99","x":-0.22,"y":1.6}],
"lJul":[{"t":"99","x":0.09,"y":-1.25},{"t":"95","x":0.23,"y":-0.87},{"t":"90","x":-0.25,"y":-0.77},{"t":"80","x":-0.06,"y":-0.7},{"t":"50","x":0.02,"y":-0.43},{"t":"40","x":0.14,"y":-0.23},{"t":"70","x":0.38,"y":-0.19},{"t":"99","x":-0.8,"y":-0.19},{"t":"95","x":-0.71,"y":-0.17},{"t":"60","x":-0.38,"y":-0.04},{"t":"70","x":-0.44,"y":0.12},{"t":"90","x":0.68,"y":0.06},{"t":"99","x":0.82,"y":0.08},{"t":"30","x":0.25,"y":0.24},{"t":"50","x":0.48,"y":0.24},{"t":"20","x":0.02,"y":0.35},{"t":"80","x":0.68,"y":0.52},{"t":"95","x":0.85,"y":0.59},{"t":"30","x":0.16,"y":0.53},{"t":"90","x":-0.45,"y":0.66},{"t":"80","x":-0.34,"y":0.65},{"t":"40","x":0.22,"y":0.7},{"t":"50","x":0.11,"y":0.87},{"t":"60","x":0.41,"y":0.96},{"t":"70","x":0.41,"y":1.17},{"t":"80","x":0.62,"y":1.15},{"t":"95","x":0.8,"y":1.26},{"t":"99","x":-0.37,"y":1.37},{"t":"95","x":-0.25,"y":1.44},{"t":"90","x":0.51,"y":1.58},{"t":"99","x":0.72,"y":1.85}],
"lSep":[{"t":"99","x":-0.91,"y":-1.52},{"t":"90","x":-0.33,"y":-1.49},{"t":"99","x":0,"y":-1.45},{"t":"95","x":-0.02,"y":-1.26},{"t":"95","x":-0.85,"y":-1.19},{"t":"70","x":-0.41,"y":-1.18},{"t":"80","x":-0.7,"y":-1.11},{"t":"60","x":-0.5,"y":-0.88},{"t":"99","x":-0.8,"y":-0.73},{"t":"95","x":-0.75,"y":-0.69},{"t":"80","x":-0.66,"y":-0.69},{"t":"40","x":-0.16,"y":-0.65},{"t":"50","x":-0.06,"y":-0.68},{"t":"80","x":0.32,"y":-0.68},{"t":"60","x":-0.45,"y":-0.32},{"t":"90","x":0.52,"y":-0.29},{"t":"99","x":0.64,"y":-0.18},{"t":"70","x":-0.43,"y":-0.06},{"t":"60","x":0.15,"y":-0.1},{"t":"40","x":-0.2,"y":0},{"t":"60","x":0.3,"y":0.03},{"t":"70","x":0.37,"y":0.03},{"t":"95","x":0.51,"y":0.06},{"t":"99","x":-0.73,"y":0.06},{"t":"50","x":-0.14,"y":0.22},{"t":"80","x":0.04,"y":0.71},{"t":"90","x":-0.09,"y":0.77},{"t":"99","x":-0.22,"y":0.75},{"t":"99","x":0.13,"y":1.26}],
"lNov":[{"t":"95","x":-0.63,"y":-1.58},{"t":"99","x":0,"y":-1.45},{"t":"99","x":-0.86,"y":-1.19},{"t":"90","x":-0.79,"y":-1.21},{"t":"80","x":-0.72,"y":-1.23},{"t":"70","x":-0.39,"y":-1.03},{"t":"80","x":-0.03,"y":-0.96},{"t":"50","x":-0.13,"y":-0.69},{"t":"90","x":-0.69,"y":-0.65},{"t":"99","x":-0.81,"y":-0.56},{"t":"80","x":-0.58,"y":-0.55},{"t":"70","x":-0.48,"y":-0.5},{"t":"99","x":0.27,"y":-0.62},{"t":"95","x":0.35,"y":-0.57},{"t":"40","x":-0.25,"y":-0.47},{"t":"60","x":-0.41,"y":-0.42},{"t":"95","x":-0.69,"y":-0.39},{"t":"40","x":-0.19,"y":-0.17},{"t":"50","x":-0.17,"y":-0.03},{"t":"60","x":0.23,"y":-0.17},{"t":"50","x":0.12,"y":-0.11},{"t":"99","x":0.52,"y":0.09},{"t":"70","x":0.3,"y":0.24},{"t":"80","x":0.25,"y":0.55},{"t":"90","x":0.07,"y":0.72},{"t":"95","x":0.15,"y":0.84},{"t":"99","x":-0.11,"y":0.86}]
},
"vconcat":[
{"width":551,"height":15,"view":{"fill":null,"stroke":null},
"encoding":{"x":{"type":"quantitative","scale":{"domain":[-1.119,4.755],"nice":false,"zero":false},"axis":{"values":[0,0.5,1,1.5,2,2.5,3,3.5],"labelExpr":"''+datum.value","title":null,"ticks":false,"labelPadding":2,"orient":"bottom"}},"y":{"type":"quantitative","scale":{"domain":[0,1],"nice":false},"axis":null}},
"layer":[
{"data":{"name":"cb"},"mark":{"type":"rect"},"encoding":{"x":{"field":"a","type":"quantitative"},"x2":{"field":"b"},"y":{"datum":0},"y2":{"datum":1},"fill":{"field":"a","type":"quantitative","legend":null,"scale":{"domain":[0,0.4725,1.4175,2.3625,3.3075,3.78],"range":["#00008f","#0000ff","#00ffff","#ffff00","#ff0000","#800000"],"interpolate":"rgb"}}}},
{"data":{"values":[{"t":0.5},{"t":1},{"t":1.5},{"t":2},{"t":2.5},{"t":3},{"t":3.5}]},"layer":[{"mark":{"type":"rule","color":"#000000","strokeWidth":1},"encoding":{"x":{"field":"t","type":"quantitative"},"y":{"datum":0},"y2":{"datum":0.18}}},{"mark":{"type":"rule","color":"#000000","strokeWidth":1},"encoding":{"x":{"field":"t","type":"quantitative"},"y":{"datum":0.82},"y2":{"datum":1}}}]},
{"data":{"values":[{"a":0,"b":3.78}]},"mark":{"type":"rect","fill":null,"stroke":"#333333","strokeWidth":1},"encoding":{"x":{"field":"a","type":"quantitative"},"x2":{"field":"b"},"y":{"datum":0},"y2":{"datum":1}}},
{"data":{"values":[{"t":"x 10","x":3.59,"y":-1.35}]},"mark":{"type":"text","fontSize":8,"color":"#444444","align":"left"},"encoding":{"x":{"field":"x","type":"quantitative"},"y":{"field":"y","type":"quantitative"},"text":{"field":"t"}}},
{"data":{"values":[{"t":"-3","x":3.74,"y":-1.08}]},"mark":{"type":"text","fontSize":6,"color":"#444444","align":"left"},"encoding":{"x":{"field":"x","type":"quantitative"},"y":{"field":"y","type":"quantitative"},"text":{"field":"t"}}}
]},
{"vconcat":[
{"hconcat":[
{"width":251,"height":197,"encoding":{"x":{"field":"x","type":"quantitative","scale":{"domain":[-2.085,2.11],"nice":false,"zero":false},"axis":{"title":null,"values":[-2,-1.5,-1,-0.5,0,0.5,1,1.5,2],"labelExpr":"''+datum.value"}},"y":{"field":"y","type":"quantitative","scale":{"domain":[-2.105,2.14],"nice":false,"zero":false,"reverse":true},"axis":{"title":"Distance from tower S-N (km)","values":[-2,-1.5,-1,-0.5,0,0.5,1,1.5,2],"labelExpr":"''+datum.value"}}},
"layer":[
{"data":{"name":"Jan"},"transform":[{"lookup":"l","from":{"data":{"name":"dJan"},"key":"l","fields":["v"]}}],"mark":{"type":"line","interpolate":"cardinal-closed","stroke":null},"encoding":{"detail":{"field":"l"},"order":{"value":null},"fill":{"field":"v","type":"quantitative","legend":null,"scale":{"domain":[0,0.4725,1.4175,2.3625,3.3075,3.78],"range":["#00008f","#0000ff","#00ffff","#ffff00","#ff0000","#800000"],"interpolate":"rgb"}}}},
{"data":{"name":"Jan"},"transform":[{"filter":"datum.l>=20"}],"mark":{"type":"line","interpolate":"cardinal-closed","color":"#ffffff","strokeWidth":0.8,"opacity":0.75},"encoding":{"detail":{"field":"l"},"order":{"value":null}}},
{"data":{"name":"lJan"},"mark":{"type":"text","fontSize":8,"color":"#d4d4e8"},"encoding":{"text":{"field":"t"}}},
{"data":{"values":[{"t":"Jan","x":-1.79,"y":-1.69}]},"mark":{"type":"text","fontSize":10.5,"color":"#ffffff","align":"left"},"encoding":{"text":{"field":"t"}}}
]},
{"width":251,"height":197,"encoding":{"x":{"field":"x","type":"quantitative","scale":{"domain":[-2.085,2.11],"nice":false,"zero":false},"axis":{"title":null,"values":[-2,-1.5,-1,-0.5,0,0.5,1,1.5,2],"labelExpr":"''+datum.value"}},"y":{"field":"y","type":"quantitative","scale":{"domain":[-2.105,2.14],"nice":false,"zero":false,"reverse":true},"axis":{"title":null,"values":[-2,-1.5,-1,-0.5,0,0.5,1,1.5,2],"labelExpr":"''+datum.value"}}},
"layer":[
{"data":{"name":"Mar"},"transform":[{"lookup":"l","from":{"data":{"name":"dMar"},"key":"l","fields":["v"]}}],"mark":{"type":"line","interpolate":"cardinal-closed","stroke":null},"encoding":{"detail":{"field":"l"},"order":{"value":null},"fill":{"field":"v","type":"quantitative","legend":null,"scale":{"domain":[0,0.4725,1.4175,2.3625,3.3075,3.78],"range":["#00008f","#0000ff","#00ffff","#ffff00","#ff0000","#800000"],"interpolate":"rgb"}}}},
{"data":{"name":"Mar"},"transform":[{"filter":"datum.l>=20"}],"mark":{"type":"line","interpolate":"cardinal-closed","color":"#ffffff","strokeWidth":0.8,"opacity":0.75},"encoding":{"detail":{"field":"l"},"order":{"value":null}}},
{"data":{"name":"lMar"},"mark":{"type":"text","fontSize":8,"color":"#d4d4e8"},"encoding":{"text":{"field":"t"}}},
{"data":{"values":[{"t":"Mar","x":-1.79,"y":-1.69}]},"mark":{"type":"text","fontSize":10.5,"color":"#ffffff","align":"left"},"encoding":{"text":{"field":"t"}}}
]}
],"spacing":49,"bounds":"flush"},
{"hconcat":[
{"width":251,"height":197,"encoding":{"x":{"field":"x","type":"quantitative","scale":{"domain":[-2.085,2.11],"nice":false,"zero":false},"axis":{"title":null,"values":[-2,-1.5,-1,-0.5,0,0.5,1,1.5,2],"labelExpr":"''+datum.value"}},"y":{"field":"y","type":"quantitative","scale":{"domain":[-2.105,2.14],"nice":false,"zero":false,"reverse":true},"axis":{"title":"Distance from tower S-N (km)","values":[-2,-1.5,-1,-0.5,0,0.5,1,1.5,2],"labelExpr":"''+datum.value"}}},
"layer":[
{"data":{"name":"May"},"transform":[{"lookup":"l","from":{"data":{"name":"dMay"},"key":"l","fields":["v"]}}],"mark":{"type":"line","interpolate":"cardinal-closed","stroke":null},"encoding":{"detail":{"field":"l"},"order":{"value":null},"fill":{"field":"v","type":"quantitative","legend":null,"scale":{"domain":[0,0.4725,1.4175,2.3625,3.3075,3.78],"range":["#00008f","#0000ff","#00ffff","#ffff00","#ff0000","#800000"],"interpolate":"rgb"}}}},
{"data":{"name":"May"},"transform":[{"filter":"datum.l>=20"}],"mark":{"type":"line","interpolate":"cardinal-closed","color":"#ffffff","strokeWidth":0.8,"opacity":0.75},"encoding":{"detail":{"field":"l"},"order":{"value":null}}},
{"data":{"name":"lMay"},"mark":{"type":"text","fontSize":8,"color":"#d4d4e8"},"encoding":{"text":{"field":"t"}}},
{"data":{"values":[{"t":"May","x":-1.79,"y":-1.68}]},"mark":{"type":"text","fontSize":10.5,"color":"#ffffff","align":"left"},"encoding":{"text":{"field":"t"}}}
]},
{"width":251,"height":197,"encoding":{"x":{"field":"x","type":"quantitative","scale":{"domain":[-2.085,2.11],"nice":false,"zero":false},"axis":{"title":null,"values":[-2,-1.5,-1,-0.5,0,0.5,1,1.5,2],"labelExpr":"''+datum.value"}},"y":{"field":"y","type":"quantitative","scale":{"domain":[-2.105,2.14],"nice":false,"zero":false,"reverse":true},"axis":{"title":null,"values":[-2,-1.5,-1,-0.5,0,0.5,1,1.5,2],"labelExpr":"''+datum.value"}}},
"layer":[
{"data":{"name":"Jul"},"transform":[{"lookup":"l","from":{"data":{"name":"dMay"},"key":"l","fields":["v"]}}],"mark":{"type":"line","interpolate":"cardinal-closed","stroke":null},"encoding":{"detail":{"field":"l"},"order":{"value":null},"fill":{"field":"v","type":"quantitative","legend":null,"scale":{"domain":[0,0.4725,1.4175,2.3625,3.3075,3.78],"range":["#00008f","#0000ff","#00ffff","#ffff00","#ff0000","#800000"],"interpolate":"rgb"}}}},
{"data":{"name":"Jul"},"transform":[{"filter":"datum.l>=20"}],"mark":{"type":"line","interpolate":"cardinal-closed","color":"#ffffff","strokeWidth":0.8,"opacity":0.75},"encoding":{"detail":{"field":"l"},"order":{"value":null}}},
{"data":{"name":"lJul"},"mark":{"type":"text","fontSize":8,"color":"#d4d4e8"},"encoding":{"text":{"field":"t"}}},
{"data":{"values":[{"t":"Jul","x":-1.79,"y":-1.78}]},"mark":{"type":"text","fontSize":10.5,"color":"#ffffff","align":"left"},"encoding":{"text":{"field":"t"}}}
]}
],"spacing":49,"bounds":"flush"},
{"hconcat":[
{"width":251,"height":197,"encoding":{"x":{"field":"x","type":"quantitative","scale":{"domain":[-2.085,2.11],"nice":false,"zero":false},"axis":{"title":"Distance from tower W-E (km)","values":[-2,-1.5,-1,-0.5,0,0.5,1,1.5,2],"labelExpr":"''+datum.value"}},"y":{"field":"y","type":"quantitative","scale":{"domain":[-2.105,2.14],"nice":false,"zero":false,"reverse":true},"axis":{"title":"Distance from tower S-N (km)","values":[-2,-1.5,-1,-0.5,0,0.5,1,1.5,2],"labelExpr":"''+datum.value"}}},
"layer":[
{"data":{"name":"Sep"},"transform":[{"lookup":"l","from":{"data":{"name":"dMar"},"key":"l","fields":["v"]}}],"mark":{"type":"line","interpolate":"cardinal-closed","stroke":null},"encoding":{"detail":{"field":"l"},"order":{"value":null},"fill":{"field":"v","type":"quantitative","legend":null,"scale":{"domain":[0,0.4725,1.4175,2.3625,3.3075,3.78],"range":["#00008f","#0000ff","#00ffff","#ffff00","#ff0000","#800000"],"interpolate":"rgb"}}}},
{"data":{"name":"Sep"},"transform":[{"filter":"datum.l>=20"}],"mark":{"type":"line","interpolate":"cardinal-closed","color":"#ffffff","strokeWidth":0.8,"opacity":0.75},"encoding":{"detail":{"field":"l"},"order":{"value":null}}},
{"data":{"name":"lSep"},"mark":{"type":"text","fontSize":8,"color":"#d4d4e8"},"encoding":{"text":{"field":"t"}}},
{"data":{"values":[{"t":"Sep","x":-1.79,"y":-1.71}]},"mark":{"type":"text","fontSize":10.5,"color":"#ffffff","align":"left"},"encoding":{"text":{"field":"t"}}}
]},
{"width":251,"height":197,"encoding":{"x":{"field":"x","type":"quantitative","scale":{"domain":[-2.085,2.11],"nice":false,"zero":false},"axis":{"title":"Distance from tower W-E (km)","values":[-2,-1.5,-1,-0.5,0,0.5,1,1.5,2],"labelExpr":"''+datum.value"}},"y":{"field":"y","type":"quantitative","scale":{"domain":[-2.105,2.14],"nice":false,"zero":false,"reverse":true},"axis":{"title":null,"values":[-2,-1.5,-1,-0.5,0,0.5,1,1.5,2],"labelExpr":"''+datum.value"}}},
"layer":[
{"data":{"name":"Nov"},"transform":[{"lookup":"l","from":{"data":{"name":"dJan"},"key":"l","fields":["v"]}}],"mark":{"type":"line","interpolate":"cardinal-closed","stroke":null},"encoding":{"detail":{"field":"l"},"order":{"value":null},"fill":{"field":"v","type":"quantitative","legend":null,"scale":{"domain":[0,0.4725,1.4175,2.3625,3.3075,3.78],"range":["#00008f","#0000ff","#00ffff","#ffff00","#ff0000","#800000"],"interpolate":"rgb"}}}},
{"data":{"name":"Nov"},"transform":[{"filter":"datum.l>=20"}],"mark":{"type":"line","interpolate":"cardinal-closed","color":"#ffffff","strokeWidth":0.8,"opacity":0.75},"encoding":{"detail":{"field":"l"},"order":{"value":null}}},
{"data":{"name":"lNov"},"mark":{"type":"text","fontSize":8,"color":"#d4d4e8"},"encoding":{"text":{"field":"t"}}},
{"data":{"values":[{"t":"Nov","x":-1.79,"y":-1.71}]},"mark":{"type":"text","fontSize":10.5,"color":"#ffffff","align":"left"},"encoding":{"text":{"field":"t"}}}
]}
],"spacing":49,"bounds":"flush"}
],"spacing":35.5}
]}
